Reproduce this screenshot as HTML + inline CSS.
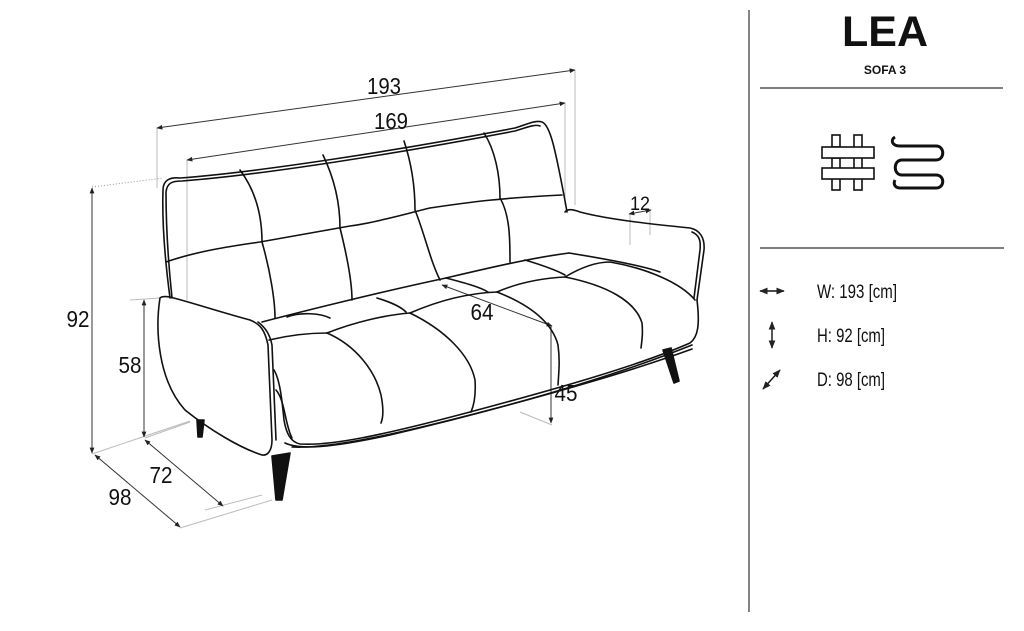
<!DOCTYPE html>
<html><head><meta charset="utf-8"><style>
html,body{margin:0;padding:0;background:#fff;}
body{width:1024px;height:631px;overflow:hidden;position:relative;font-family:"Liberation Sans",sans-serif;}
svg{position:absolute;left:0;top:0;}
</style></head><body>
<svg width="1024" height="631" viewBox="0 0 1024 631" xmlns="http://www.w3.org/2000/svg">
<defs>
<marker id="a" viewBox="0 0 10 10" refX="9" refY="5" markerWidth="6" markerHeight="6" orient="auto-start-reverse"><path d="M0,1 L10,5 L0,9 z" fill="#222"/></marker>
</defs>
<g stroke="#bbb" stroke-width="1" fill="none">
<line x1="157" y1="128" x2="157" y2="188"/>
<line x1="575" y1="70" x2="575" y2="205"/>
<line x1="187" y1="160" x2="187" y2="300"/>
<line x1="565" y1="103" x2="565" y2="205"/>
<line x1="130" y1="300" x2="160" y2="298"/>
<line x1="92" y1="454" x2="190" y2="421"/>
<line x1="145" y1="438" x2="190" y2="422"/>
<line x1="180" y1="528" x2="272" y2="500"/>
<line x1="205" y1="510" x2="262" y2="495"/>
<line x1="630" y1="215" x2="630" y2="245"/>
<line x1="650" y1="210" x2="650" y2="235"/>
<line x1="520" y1="412" x2="552" y2="425"/>
</g>
<line x1="92" y1="187" x2="163" y2="178" stroke="#999" stroke-dasharray="1,2"/>
<g stroke="#333" stroke-width="1" fill="none" marker-start="url(#a)" marker-end="url(#a)">
<line x1="157" y1="128" x2="575" y2="70"/>
<line x1="187" y1="160" x2="565" y2="103"/>
<line x1="92" y1="188" x2="92" y2="453"/>
<line x1="144" y1="300" x2="144" y2="437"/>
<line x1="145" y1="440" x2="223" y2="506"/>
<line x1="95" y1="455" x2="180" y2="527"/>
<line x1="629" y1="214" x2="651" y2="210"/>
<line x1="442" y1="285" x2="552" y2="326"/>
</g>
<line x1="551" y1="326" x2="551" y2="423" stroke="#333" marker-end="url(#a)"/>
<g font-family="Liberation Sans, sans-serif" font-size="23" fill="#111" text-anchor="middle" lengthAdjust="spacingAndGlyphs">
<text x="384" y="94" textLength="34" lengthAdjust="spacingAndGlyphs">193</text>
<text x="391" y="129" textLength="34" lengthAdjust="spacingAndGlyphs">169</text>
<text x="78" y="327" textLength="23" lengthAdjust="spacingAndGlyphs">92</text>
<text x="130" y="373" textLength="23" lengthAdjust="spacingAndGlyphs">58</text>
<text x="161" y="483" textLength="23" lengthAdjust="spacingAndGlyphs">72</text>
<text x="120" y="505" textLength="23" lengthAdjust="spacingAndGlyphs">98</text>
<text x="482" y="320" textLength="23" lengthAdjust="spacingAndGlyphs">64</text>
<text x="566" y="401" textLength="23" lengthAdjust="spacingAndGlyphs">45</text>
<text x="640" y="210" font-size="19" textLength="20" lengthAdjust="spacingAndGlyphs">12</text>
</g>
<g stroke="#111" stroke-width="1.6" fill="none" stroke-linejoin="round" stroke-linecap="round">
<!-- back outline -->
<path d="M170,298 C165,260 162,220 163,190 C163,180 170,177 180,178 C260,172 400,150 515,128 C528,124 535,120 542,122 C550,125 555,150 560,175 C563,190 565,200 567,212"/>
<path d="M172,298 C168,260 166,222 166,192 C167,183 172,181 182,181 C262,175 400,153 515,131 C528,127 535,124 540,126"/>
<path d="M166,262 C200,250 240,245 260,242 C300,235 340,228 350,226 C380,222 420,210 430,208 C470,202 500,198 562,195"/>
<path d="M240,170 C255,190 262,215 262,242 C270,270 275,300 275,318"/>
<path d="M323,155 C335,180 340,205 340,228 C348,260 352,285 352,300"/>
<path d="M404,141 C412,165 415,190 415,210 C425,235 430,260 440,280"/>
<path d="M484,133 C495,150 500,175 500,198 C510,215 510,240 510,262"/>
<!-- back bottom line -->
<path d="M262,322 C300,312 380,292 446,278 C480,270 530,258 569,253"/>
<!-- back seat row seams -->
<path d="M287,317 C300,312 320,313 330,318"/>
<path d="M377,298 C390,302 400,306 406,312"/>
<path d="M446,278 C465,283 480,287 488,292"/>
<path d="M525,260 C545,266 556,270 565,275"/>
<!-- left arm -->
<path d="M160,298 C155,330 158,380 185,410 C210,430 240,448 262,455 C268,456 272,450 272,440 L268,345 C265,330 260,324 250,320 C220,312 190,302 170,297 C164,296 161,297 160,298 Z"/>
<path d="M258,322 C266,328 270,335 272,345 L276,440"/>
<!-- front cushions -->
<path d="M269,340 C290,335 310,333 327,333"/>
<path d="M327,333 C355,345 375,370 381,395 C384,410 383,418 381,423"/>
<path d="M327,333 C355,322 385,315 410,313"/>
<path d="M410,313 C445,330 470,355 475,380 C476,395 474,405 471,412"/>
<path d="M410,313 C440,300 470,293 497,292"/>
<path d="M497,292 C530,305 552,322 558,345 C560,360 559,370 558,385"/>
<path d="M497,292 C520,282 545,278 565,277"/>
<path d="M565,277 C605,285 635,300 642,323 C643,333 642,340 641,348"/>
<path d="M565,277 C580,268 595,262 610,262 C645,268 680,282 695,300"/>
<path d="M569,253 C600,258 640,265 660,272"/>
<!-- seat front and lower frame -->
<path d="M274,370 C280,380 282,400 284,420 C286,432 290,442 300,444 C330,446 380,436 470,412 C560,388 640,365 690,343 C698,337 700,325 697,300"/>
<path d="M276,390 C285,400 285,425 292,438"/>
<path d="M285,443 C300,450 330,448 390,435 C480,414 600,382 692,345"/>
<path d="M292,447 C330,449 400,433 470,415 C560,392 640,368 692,349"/>
<!-- right arm -->
<path d="M565,212 C568,208 575,210 580,212 C610,220 660,225 690,228 C700,230 705,238 704,250 L697,300"/>
<path d="M692,232 C699,235 701,240 700,250 L694,298"/>
<path d="M197,420 L204,420 L202,437 L198,437 Z" fill="#111"/>
<path d="M272,456 L290,453 L282,500 L276,500 Z" fill="#111"/>
<path d="M663,350 L671,348 L679,381 L674,383 Z" fill="#111"/>
</g>
<line x1="749" y1="10" x2="749" y2="612" stroke="#333" stroke-width="1.2"/>
<text x="885" y="46" font-family="Liberation Sans, sans-serif" font-weight="bold" font-size="43" text-anchor="middle" fill="#111">LEA</text>
<text x="885" y="74" font-family="Liberation Sans, sans-serif" font-weight="bold" font-size="12" text-anchor="middle" fill="#111">SOFA 3</text>
<line x1="760" y1="88" x2="1003" y2="88" stroke="#333" stroke-width="1.2"/>
<line x1="760" y1="248" x2="1004" y2="248" stroke="#333" stroke-width="1.2"/>
<g stroke="#111" stroke-width="1.6" fill="#fff">
<rect x="832" y="135" width="8" height="55"/>
<rect x="854" y="135" width="8" height="55"/>
<rect x="822" y="147" width="52" height="11"/>
<rect x="832" y="147" width="8" height="11" stroke="none"/>
<line x1="832" y1="147" x2="840" y2="147"/><line x1="832" y1="158" x2="840" y2="158"/>
<rect x="822" y="168" width="52" height="11"/>
<rect x="855" y="169" width="6" height="9" stroke="none"/>
</g>
<path d="M895,137 C890,140 892,146 900,146 L936,146 C945,146 945,160 936,160 L902,160 C893,160 893,175 902,175 L936,175 C945,175 945,188 936,188 L900,188 C895,188 893,184 895,180" fill="none" stroke="#111" stroke-width="3"/>
<g stroke="#111" stroke-width="1.4" fill="none">
<line x1="760" y1="291" x2="784" y2="291" marker-start="url(#a)" marker-end="url(#a)"/>
<line x1="772" y1="322" x2="772" y2="348" marker-start="url(#a)" marker-end="url(#a)"/>
<line x1="763" y1="389" x2="780" y2="370" marker-start="url(#a)" marker-end="url(#a)"/>
</g>
<g font-family="Liberation Sans, sans-serif" font-size="19" fill="#111">
<text x="817" y="298" textLength="80" lengthAdjust="spacingAndGlyphs">W: 193 [cm]</text>
<text x="817" y="342" textLength="68" lengthAdjust="spacingAndGlyphs">H: 92 [cm]</text>
<text x="817" y="386" textLength="68" lengthAdjust="spacingAndGlyphs">D: 98 [cm]</text>
</g>
</svg>
</body></html>
